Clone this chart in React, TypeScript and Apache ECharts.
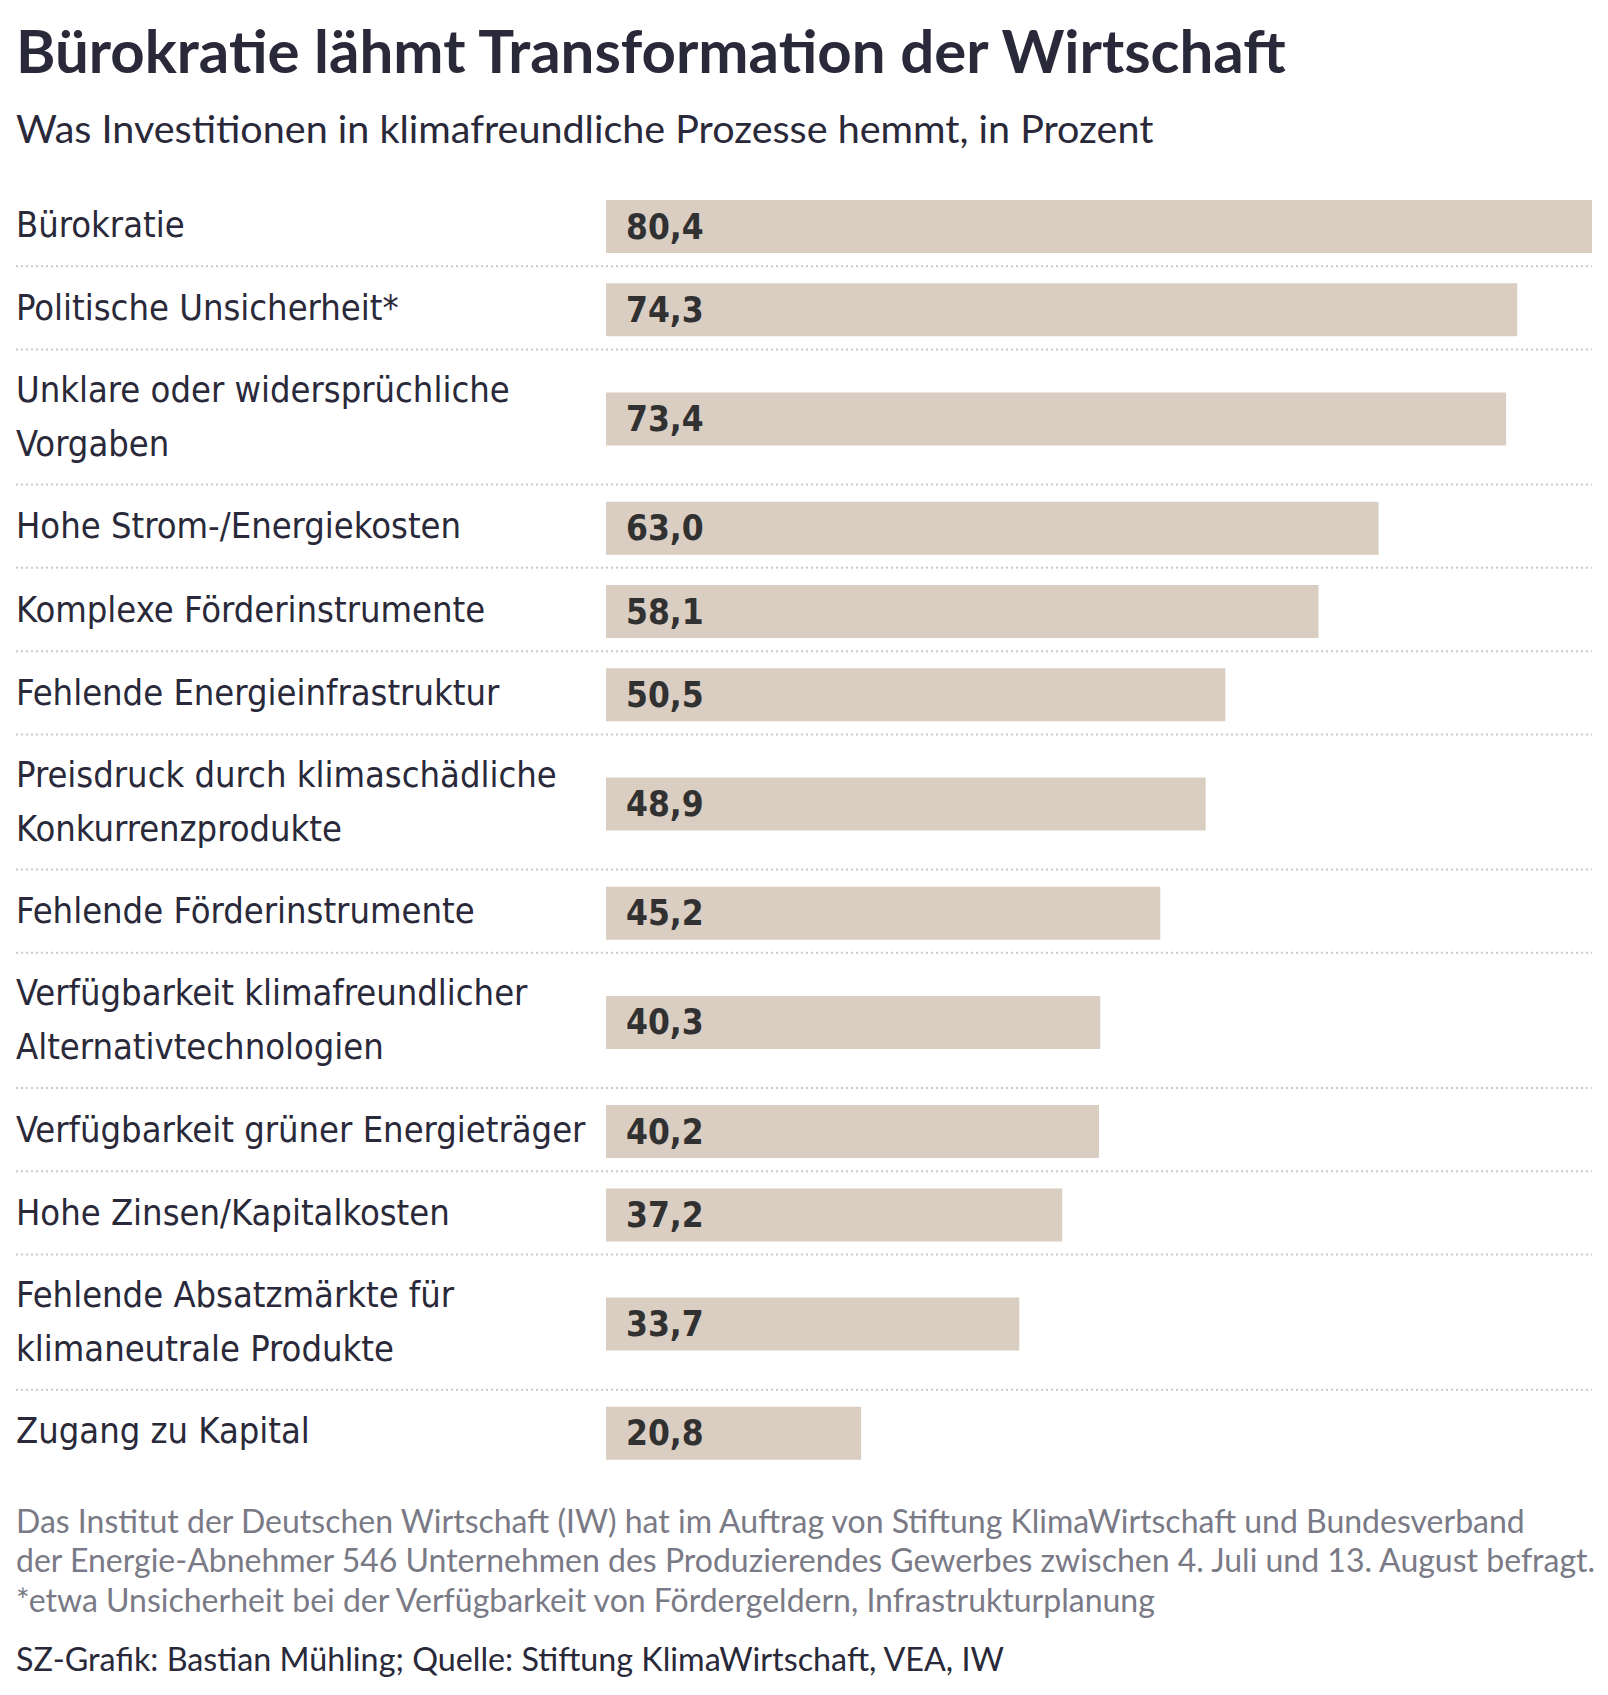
import React, { useEffect, useRef } from "react";
import * as echarts from "echarts";

const TITLE = "Bürokratie lähmt Transformation der Wirtschaft";
const SUBTITLE = "Was Investitionen in klimafreundliche Prozesse hemmt, in Prozent";
const NOTES = [
  "Das Institut der Deutschen Wirtschaft (IW) hat im Auftrag von Stiftung KlimaWirtschaft und Bundesverband",
  "der Energie-Abnehmer 546 Unternehmen des Produzierendes Gewerbes zwischen 4. Juli und 13. August befragt.",
  "*etwa Unsicherheit bei der Verfügbarkeit von Fördergeldern, Infrastrukturplanung",
];
const CREDIT = "SZ-Grafik: Bastian Mühling; Quelle: Stiftung KlimaWirtschaft, VEA, IW";

const categories = [
  "Bürokratie",
  "Politische Unsicherheit*",
  "Unklare oder widersprüchliche\nVorgaben",
  "Hohe Strom-/Energiekosten",
  "Komplexe Förderinstrumente",
  "Fehlende Energieinfrastruktur",
  "Preisdruck durch klimaschädliche\nKonkurrenzprodukte",
  "Fehlende Förderinstrumente",
  "Verfügbarkeit klimafreundlicher\nAlternativtechnologien",
  "Verfügbarkeit grüner Energieträger",
  "Hohe Zinsen/Kapitalkosten",
  "Fehlende Absatzmärkte für\nklimaneutrale Produkte",
  "Zugang zu Kapital",
];
const values = [80.4, 74.3, 73.4, 63.0, 58.1, 50.5, 48.9, 45.2, 40.3, 40.2, 37.2, 33.7, 20.8];

const W = 1608;
const H = 1695;
const LEFT = 16;
const BAR_LEFT = 606;
const RIGHT = 16;
const ROW_H = 83.3;
const TOP0 = 226.5 - ROW_H / 2;
const LINE_EXTRA = 51.8;
const DARK = "#29293a";
const LABEL_FONT = "'DejaVu Sans Condensed', sans-serif";
const TEXT_FONT = "Lato, 'Noto Sans', sans-serif";

export default function App() {
  const ref = useRef<HTMLDivElement>(null);
  useEffect(() => {
    document.body.style.margin = "0";
    const chart = echarts.init(ref.current!, undefined, { renderer: "svg" });
    const maxV = Math.max(...values);

    const tops: number[] = [];
    const heights: number[] = [];
    let y = TOP0;
    categories.forEach((c) => {
      const lines = c.split("\n").length;
      const h = ROW_H + (lines - 1) * LINE_EXTRA;
      tops.push(y);
      heights.push(h);
      y += h;
    });

    const grid = categories.map((_, i) => ({
      left: BAR_LEFT,
      right: RIGHT,
      top: tops[i],
      height: heights[i],
      containLabel: false,
    }));
    const xAxis = categories.map((_, i) => ({
      gridIndex: i,
      type: "value",
      min: 0,
      max: maxV,
      show: false,
    }));
    const yAxis = categories.map((c, i) => ({
      gridIndex: i,
      type: "category",
      data: [c],
      axisLine: { show: false },
      axisTick: { show: false },
      splitLine: { show: false },
      axisLabel: {
        interval: 0,
        align: "left",
        margin: BAR_LEFT - LEFT,
        formatter: (v: string) =>
          v
            .split("\n")
            .map((l) => `{t|${l}}`)
            .join("\n"),
        rich: {
          t: {
            fontFamily: LABEL_FONT,
            fontSize: 36,
            lineHeight: 54,
            color: DARK,
            padding: [0, 0, 5, 0],
          },
        },
      },
    }));
    const series = categories.map((_, i) => ({
      type: "bar",
      xAxisIndex: i,
      yAxisIndex: i,
      data: [values[i]],
      barWidth: 53,
      itemStyle: { color: "#dacdc2" },
      label: {
        show: true,
        position: "insideLeft",
        distance: 20,
        fontFamily: LABEL_FONT,
        fontWeight: "bold",
        fontSize: 35,
        color: "#313131",
        formatter: (p: any) => Number(p.value).toFixed(1).replace(".", ","),
      },
    }));

    const seps = tops.slice(1).map((t) => ({
      type: "line",
      shape: { x1: LEFT, y1: t - 2, x2: W - RIGHT, y2: t - 2 },
      style: { stroke: "#c9c9c9", lineWidth: 2, lineDash: [2, 3] },
      silent: true,
    }));

    const txt = (text: string, yMid: number, size: number, color: string, weight: any = "normal") => ({
      type: "text",
      x: LEFT,
      y: yMid,
      style: {
        text,
        fontFamily: TEXT_FONT,
        fontSize: size,
        fontWeight: weight,
        fill: color,
        align: "left",
        verticalAlign: "middle",
      },
      silent: true,
    });

    const graphic: any[] = [
      ...seps,
      txt(TITLE, 50, 60, DARK, "bold"),
      txt(SUBTITLE, 127, 39.5, DARK),
      ...NOTES.map((n, i) => txt(n, 1520 + i * 39.5, 32, "#7a7a86")),
      txt(CREDIT, 1658, 32.3, DARK),
    ];

    chart.setOption({
      animation: false,
      backgroundColor: "#ffffff",
      grid,
      xAxis,
      yAxis,
      series,
      graphic,
    } as any);
    return () => chart.dispose();
  }, []);
  return <div ref={ref} style={{ width: W, height: H }} />;
}
